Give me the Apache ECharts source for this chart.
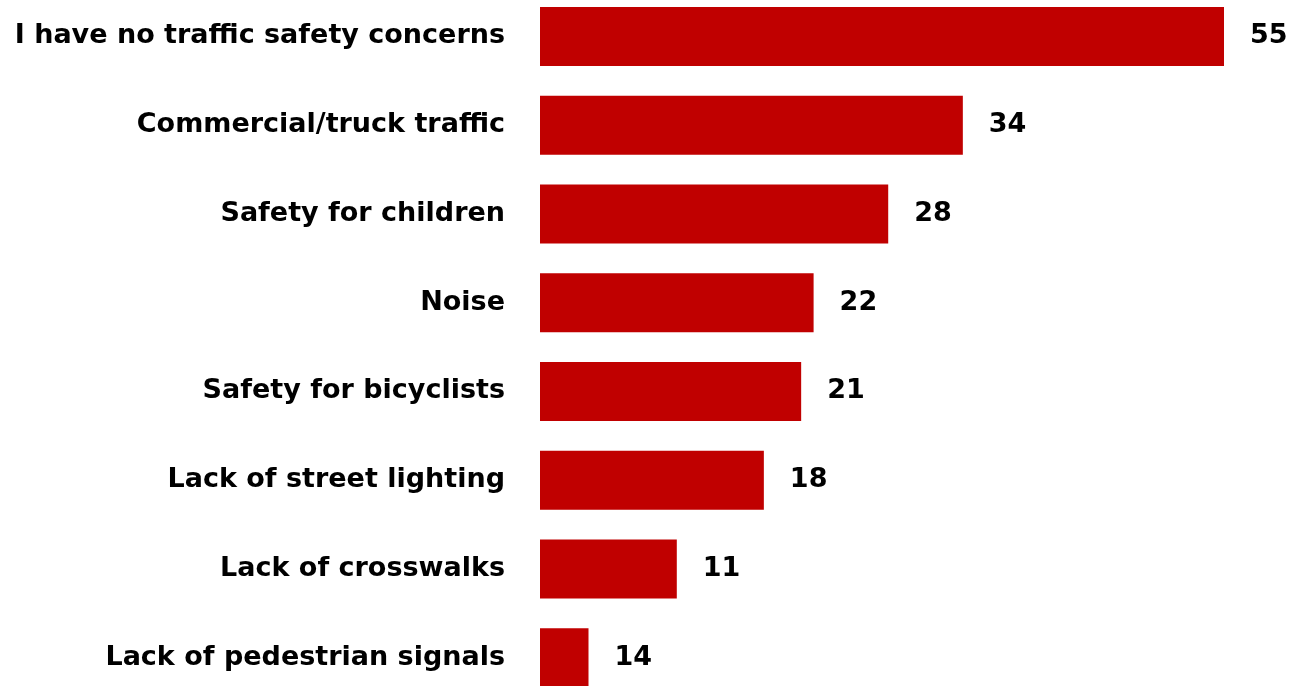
<!DOCTYPE html>
<html><head><meta charset="utf-8">
<script src="https://cdn.jsdelivr.net/npm/echarts@6/dist/echarts.min.js"></script>
<style>html,body{margin:0;padding:0;background:#fff;overflow:hidden;width:1305px;height:686px}#c{position:absolute;left:0;top:-8px;width:1305px;height:710px}</style>
</head><body><div id="c"></div>
<script>
const categories = ['I have no traffic safety concerns','Commercial/truck traffic','Safety for children','Noise','Safety for bicyclists','Lack of street lighting','Lack of crosswalks','Lack of pedestrian signals'];
const barValues = [55, 34, 28, 22, 21, 18, 11, 3.9];
const labelTexts = ['55','34','28','22','21','18','11','14'];

const chart = echarts.init(document.getElementById('c'));
const font = 'DejaVu Sans';
chart.setOption({
  animation: false,
  grid: {left: 540, top: 0, width: 684, height: 710, containLabel: false, outerBoundsMode: 'none'},
  xAxis: {type: 'value', min: 0, max: 55, show: false},
  yAxis: {type: 'category', data: categories, inverse: true,
    axisLine: {show: false}, axisTick: {show: false},
    axisLabel: {margin: 35, color: '#000', fontFamily: font, fontWeight: 'bold', fontSize: 27}},
  series: [{type: 'bar', data: barValues, barWidth: 59,
    itemStyle: {color: '#C00000'},
    label: {show: true, position: 'right', distance: 26, color: '#000', fontFamily: font, fontWeight: 'bold', fontSize: 27,
      formatter: p => labelTexts[p.dataIndex]}}]
});
</script></body></html>
